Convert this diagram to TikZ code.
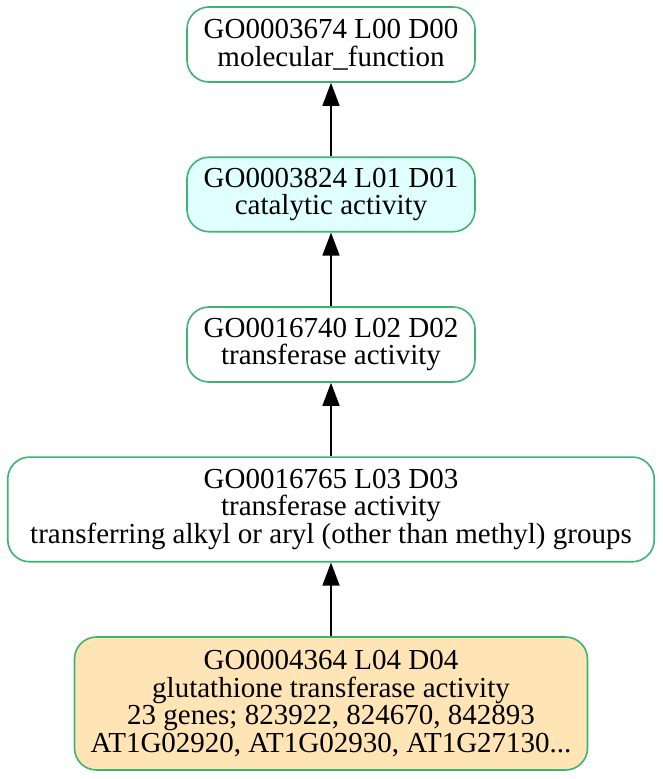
\documentclass[tikz,border=0pt]{standalone}
\usepackage{fontspec}
\setmainfont{Liberation Serif}
\usetikzlibrary{arrows.meta}
\definecolor{gogreen}{HTML}{3CB371}
\definecolor{golcyan}{HTML}{E0FFFF}
\definecolor{gomoccasin}{HTML}{FFE4B5}
\begin{document}
\begin{tikzpicture}[x=1pt,y=-1pt,
  gobox/.style={draw=gogreen, line width=1.6pt, rounded corners=22pt, inner sep=0pt,
    align=center, font=\fontsize{29}{27.8}\selectfont},
  goarrow/.style={draw=black, line width=1.5pt, -{Triangle[length=23pt,width=17pt]}}]
\useasboundingbox (0,0) rectangle (662,779);
\node[gobox, minimum width=288pt, minimum height=75pt] (n1) at (331,44.5)
  {GO0003674 L00 D00\\molecular\_function};
\node[gobox, fill=golcyan, minimum width=288pt, minimum height=74.5pt] (n2) at (331,194.5)
  {GO0003824 L01 D01\\catalytic activity};
\node[gobox, minimum width=288pt, minimum height=75pt] (n3) at (331,344.5)
  {GO0016740 L02 D02\\transferase activity};
\node[gobox, minimum width=646.5pt, minimum height=104.7pt] (n4) at (331,509.4)
  {GO0016765 L03 D03\\transferase activity\\transferring alkyl or aryl (other than methyl) groups};
\node[gobox, fill=gomoccasin, minimum width=513pt, minimum height=133pt] (n5) at (331,703.5)
  {GO0004364 L04 D04\\glutathione transferase activity\\23 genes; 823922, 824670, 842893\\AT1G02920, AT1G02930, AT1G27130...};
\draw[goarrow] (n2.north) -- (n1.south);
\draw[goarrow] (n3.north) -- (n2.south);
\draw[goarrow] (n4.north) -- (n3.south);
\draw[goarrow] (n5.north) -- (n4.south);
\end{tikzpicture}
\end{document}
